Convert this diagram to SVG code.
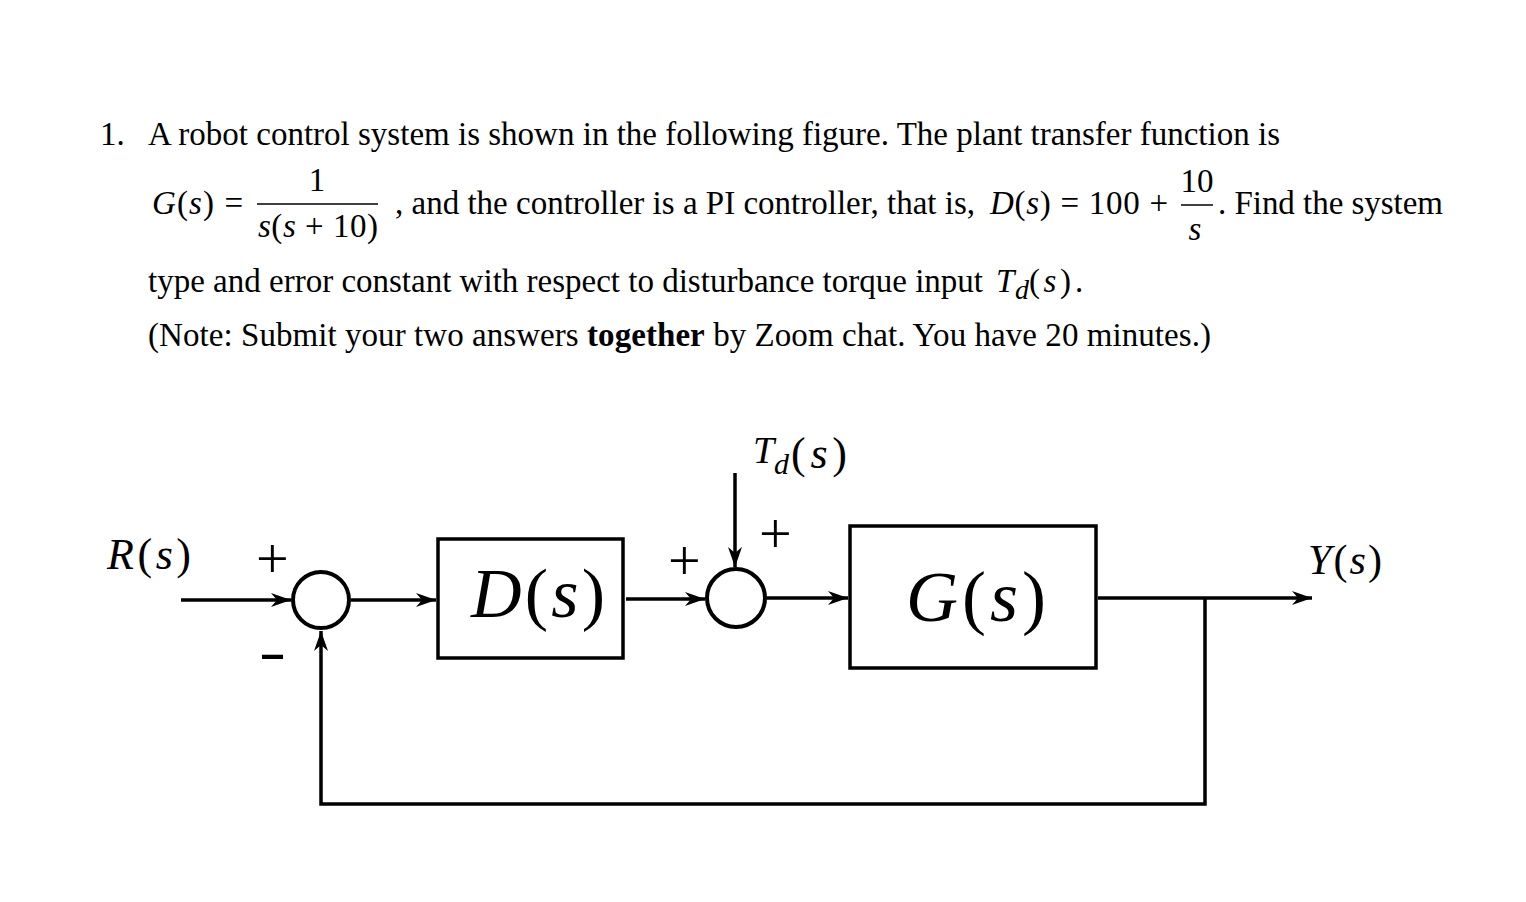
<svg xmlns="http://www.w3.org/2000/svg" width="1526" height="902" viewBox="0 0 1526 902">
<defs>
<style>
.t{font-family:"Liberation Serif","Times New Roman",serif;fill:#000;}
.i{font-style:italic;}
.b{font-weight:bold;}
.ln{stroke:#000;stroke-width:3.5;fill:none;}
.sum{stroke:#000;stroke-width:4;fill:#fff;}
.blk{stroke:#000;stroke-width:3.5;fill:#fff;}
.frac{stroke:#000;stroke-width:1.5;}
</style>
<marker id="ah" viewBox="0 0 20 14" refX="20" refY="7" markerWidth="20" markerHeight="14" markerUnits="userSpaceOnUse" orient="auto">
<path d="M0,0 L20,7 L0,14 L6,7 z" fill="#000"/>
</marker>
</defs>
<rect width="1526" height="902" fill="#fff"/>

<g id="question">
<text class="t" x="100" y="145" font-size="33">1.</text>
<text class="t" x="148" y="145" font-size="33" textLength="1132">A robot control system is shown in the following figure. The plant transfer function is</text>
<text class="t" x="152" y="214" font-size="33" textLength="91"><tspan class="i">G</tspan>(<tspan class="i">s</tspan>) =</text>
<text class="t" x="317" y="191" font-size="33" text-anchor="middle">1</text>
<line class="frac" x1="257" y1="204" x2="378" y2="204"/>
<text class="t" x="258" y="237" font-size="33" textLength="120"><tspan class="i">s</tspan>(<tspan class="i">s</tspan> + 10)</text>
<text class="t" x="395" y="214" font-size="33" textLength="580">, and the controller is a PI controller, that is,</text>
<text class="t" x="990" y="214" font-size="33" textLength="178"><tspan class="i">D</tspan>(<tspan class="i">s</tspan>) = 100 +</text>
<text class="t" x="1197" y="192" font-size="33" text-anchor="middle">10</text>
<line class="frac" x1="1181" y1="205" x2="1213" y2="205"/>
<text class="t i" x="1195" y="240" font-size="33" text-anchor="middle">s</text>
<text class="t" x="1218" y="214" font-size="33" textLength="225">. Find the system</text>
<text class="t" x="148" y="292" font-size="33" textLength="835">type and error constant with respect to disturbance torque input</text>
<text class="t i" x="996" y="292" font-size="33">T</text>
<text class="t i" x="1015" y="299" font-size="28">d</text>
<text class="t" x="1029" y="292" font-size="33" textLength="42">(<tspan class="i">s</tspan>)</text>
<text class="t" x="1075" y="292" font-size="33">.</text>
<text class="t" x="148" y="346" font-size="33" textLength="1063">(Note: Submit your two answers <tspan class="b">together</tspan> by Zoom chat. You have 20 minutes.)</text>
</g>

<g id="connectors">
<line class="ln" x1="181" y1="600" x2="291" y2="600" marker-end="url(#ah)"/>
<line class="ln" x1="351" y1="600" x2="436" y2="600" marker-end="url(#ah)"/>
<line class="ln" x1="626" y1="599" x2="705" y2="599" marker-end="url(#ah)"/>
<line class="ln" x1="735" y1="473" x2="735" y2="567" marker-end="url(#ah)"/>
<line class="ln" x1="767" y1="598" x2="848" y2="598" marker-end="url(#ah)"/>
<line class="ln" x1="1098" y1="598" x2="1312" y2="598" marker-end="url(#ah)"/>
<polyline class="ln" points="1205,598 1205,804 321,804 321,631" marker-end="url(#ah)"/>
</g>

<g id="sum1">
<circle class="sum" cx="321" cy="600" r="28"/>
<text class="t" x="256" y="578" font-size="58">+</text>
<text class="t" x="259" y="670" font-size="58" textLength="27" lengthAdjust="spacingAndGlyphs">-</text>
</g>

<g id="sum2">
<circle class="sum" cx="736" cy="598" r="29"/>
<text class="t" x="668" y="580" font-size="58">+</text>
<text class="t" x="759" y="553" font-size="58">+</text>
</g>

<g id="block-D">
<rect class="blk" x="438" y="539" width="185" height="119"/>
<text class="t" x="471" y="617" font-size="70" textLength="134"><tspan class="i">D</tspan>(<tspan class="i">s</tspan>)</text>
</g>

<g id="block-G">
<rect class="blk" x="850" y="526" width="246" height="142"/>
<text class="t" x="906" y="621" font-size="72" textLength="140"><tspan class="i">G</tspan>(<tspan class="i">s</tspan>)</text>
</g>

<g id="label-R">
<text class="t" x="107" y="569" font-size="44" textLength="84"><tspan class="i">R</tspan>(<tspan class="i">s</tspan>)</text>
</g>

<g id="label-Td">
<text class="t i" x="753" y="463" font-size="38">T</text>
<text class="t i" x="774" y="474" font-size="30">d</text>
<text class="t" x="791" y="468" font-size="44" textLength="56">(<tspan class="i">s</tspan>)</text>
</g>

<g id="label-Y">
<text class="t" x="1308" y="574" font-size="42" textLength="74"><tspan class="i">Y</tspan>(<tspan class="i">s</tspan>)</text>
</g>
</svg>
